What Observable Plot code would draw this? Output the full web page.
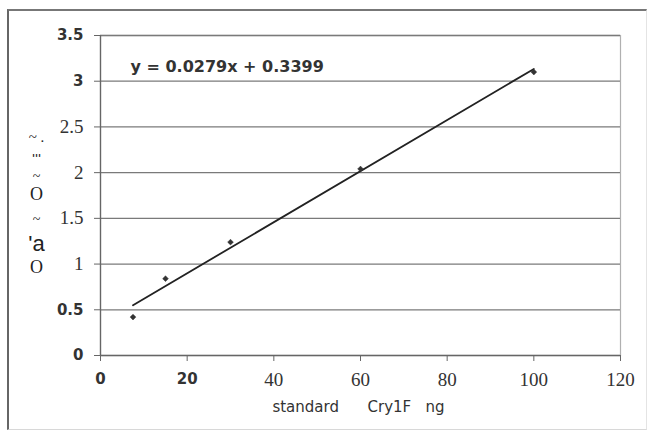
<!DOCTYPE html>
<html>
<head>
<meta charset="utf-8">
<script src="https://cdn.jsdelivr.net/npm/d3@7"></script>
<script src="https://cdn.jsdelivr.net/npm/@observablehq/plot@0.6"></script>
<style>
  html, body { margin: 0; padding: 0; background: #fff; }
  #wrap { position: relative; width: 648px; height: 431px; }
  #border { position: absolute; left: 7px; top: 9px; width: 637px; height: 418px;
    border-top: 2px solid #777; border-left: 2px solid #666;
    border-right: 1px solid #e4e4e4; border-bottom: 1px solid #d8d8d8; pointer-events: none; }
  .ff-serif, .ff-serif text { font-family: "Liberation Serif", "DejaVu Serif", serif !important; }
  .ff-sans, .ff-sans text { font-family: "DejaVu Sans", sans-serif !important; }
  .ff-arial, .ff-arial text { font-family: "Liberation Sans", Arial, sans-serif !important; }
</style>
</head>
<body>
<div id="wrap"><div id="border"></div></div>
<script>
// Data
const concentration = [7.5, 15, 30, 60, 100];      // standard Cry1F, ng
const absorbance    = [0.42, 0.84, 1.24, 2.04, 3.10];
const equationText  = "y = 0.0279x + 0.3399";
const xLabel        = "standard\u00a0\u00a0\u00a0\u00a0\u00a0\u00a0Cry1F\u00a0\u00a0\u00a0ng";
const yLabelParts   = ["~ .", "'''", "~", "O", "~", "'a", "O"];
const xTicks        = [0, 20, 40, 60, 80, 100, 120];
const yTicks        = [0, 0.5, 1, 1.5, 2, 2.5, 3, 3.5];
const xTicksBold    = [0, 20];
const xTicksSerif   = [40, 60, 80, 100, 120];
const yTicksBold    = [0, 0.5, 3, 3.5];
const yTicksSerif   = [1, 1.5, 2, 2.5];

const points = concentration.map((c, i) => ({x: c, y: absorbance[i]}));

const ink = "#333";
const fmt = d => String(d);

const yLabelStyle = [
  {dy: 96, size: 15, cls: "ff-serif"},
  {dy: 119, size: 10, cls: "ff-sans", weight: "bold"},
  {dy: 136, size: 14, cls: "ff-serif"},
  {dy: 152, size: 18, cls: "ff-serif"},
  {dy: 179, size: 14, cls: "ff-serif"},
  {dy: 200, size: 22, cls: "ff-arial"},
  {dy: 225, size: 18, cls: "ff-serif"}
];

const chart = Plot.plot({
  width: 648,
  height: 431,
  marginLeft: 100,
  marginRight: 28,
  marginTop: 35,
  marginBottom: 76,
  x: {domain: [0, 120], ticks: xTicks},
  y: {domain: [0, 3.5], ticks: yTicks},
  style: {background: "transparent", color: ink},
  marks: [
    Plot.frame({stroke: "#b0b0b0", strokeWidth: 1.2}),
    Plot.ruleY(yTicks.filter(d => d > 0), {stroke: "#7a7a7a", strokeWidth: 1.3}),
    Plot.ruleX([0], {stroke: "#666", strokeWidth: 1.3}),
    Plot.ruleY([0], {stroke: "#666", strokeWidth: 1.3}),
    Plot.axisY(yTicksBold, {className: "ff-sans", tickSize: 6, tickPadding: 11, tickFormat: fmt, stroke: "#666", fontSize: 15, fontWeight: "bold", fill: ink, label: null}),
    Plot.axisY(yTicksSerif, {className: "ff-serif", tickSize: 6, tickPadding: 11, tickFormat: fmt, stroke: "#666", fontSize: 19, fill: ink, label: null}),
    Plot.axisX(xTicksBold, {className: "ff-sans", tickSize: 6, tickPadding: 12, tickFormat: fmt, stroke: "#666", fontSize: 15, fontWeight: "bold", fill: ink, label: null}),
    Plot.axisX(xTicksSerif, {className: "ff-serif", tickSize: 6, tickPadding: 11, tickFormat: fmt, stroke: "#666", fontSize: 19, fill: ink, label: null}),
    Plot.linearRegressionY(points, {x: "x", y: "y", ci: 0, stroke: "#222", strokeWidth: 1.8}),
    Plot.dot(points, {x: "x", y: "y", symbol: "diamond2", r: 2.6, fill: "#333", stroke: "#333", strokeWidth: 0.5}),
    Plot.text([equationText], {className: "ff-sans", frameAnchor: "top-left", textAnchor: "start", dx: 30, dy: 25, fontSize: 16, fontWeight: "bold", fill: ink}),
    Plot.text([xLabel], {className: "ff-sans", frameAnchor: "bottom", dx: -2, dy: 56, fontSize: 15, fill: ink}),
    ...yLabelParts.map((t, i) => Plot.text([t], {
      className: yLabelStyle[i].cls,
      frameAnchor: "top-left", textAnchor: "middle", dx: -64, dy: yLabelStyle[i].dy,
      fontSize: yLabelStyle[i].size,
      fontWeight: yLabelStyle[i].weight || "normal", fill: "#222"
    }))
  ]
});

document.getElementById("wrap").insertBefore(chart, document.getElementById("border"));
</script>
</body>
</html>
